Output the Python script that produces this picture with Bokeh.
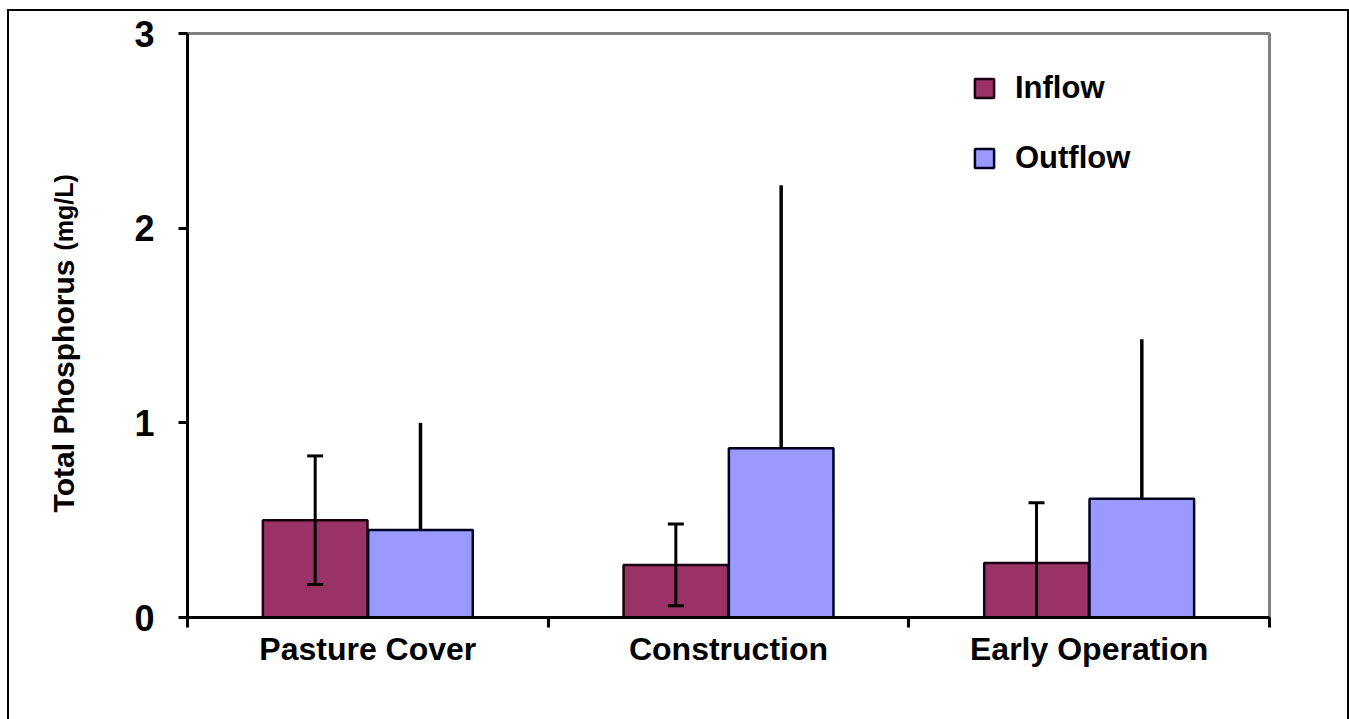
import numpy as np
from bokeh.plotting import figure
from bokeh.layouts import row
from bokeh.core.properties import value
from bokeh.models import (Range1d, FixedTicker, ColumnDataSource, Whisker, TeeHead,
                          Legend, LegendItem)
from bokeh.embed import file_html
from bokeh.resources import INLINE

# ---- data ----
categories = ["Pasture Cover", "Construction", "Early Operation"]
inflow = [0.50, 0.27, 0.28]
inflow_err = [0.33, 0.21, 0.31]
outflow = [0.45, 0.87, 0.61]
outflow_err = [0.55, 1.35, 0.82]
y_ticks = [0, 1, 2, 3]
series_names = ["Inflow", "Outflow"]
y_title = "Total Phosphorus"
y_units = "(mg/L)"

# ---- styling ----
INFLOW_COLOR = "#993366"
OUTFLOW_COLOR = "#9999FF"
FONT = "Liberation Sans"
BAR_W = 0.29
OFFSET = 0.146
H = 710
TOP, BOTTOM = 24, 102
TITLE_W = 120

idx = np.arange(len(categories))
x_in = idx + 0.5 - OFFSET
x_out = idx + 0.5 + OFFSET

y_range = Range1d(y_ticks[0], y_ticks[-1])

# ---- main chart ----
p = figure(width=1342 - TITLE_W, height=H, output_backend="svg", toolbar_location=None,
           x_range=Range1d(0, len(categories)), y_range=y_range,
           min_border_left=60, min_border_right=80, min_border_top=TOP, min_border_bottom=BOTTOM)

p.background_fill_color = "white"
p.border_fill_color = None
p.outline_line_color = "#808080"
p.outline_line_width = 3
p.xgrid.visible = False
p.ygrid.visible = False

src_in = ColumnDataSource(dict(x=x_in, top=inflow,
                               lower=[max(v - e, 0) for v, e in zip(inflow, inflow_err)],
                               upper=[v + e for v, e in zip(inflow, inflow_err)]))
src_out = ColumnDataSource(dict(x=x_out, top=outflow,
                                upper=[v + e for v, e in zip(outflow, outflow_err)]))

r_in = p.vbar(x="x", top="top", bottom=0, width=BAR_W, source=src_in,
              fill_color=INFLOW_COLOR, line_color="#1a0010", line_width=2.5)
r_out = p.vbar(x="x", top="top", bottom=0, width=BAR_W, source=src_out,
               fill_color=OUTFLOW_COLOR, line_color="#000022", line_width=2.5)

# error bars
p.add_layout(Whisker(base="x", lower="lower", upper="upper", source=src_in,
                     level="overlay", line_color="black", line_width=3,
                     upper_head=TeeHead(size=16, line_width=3, line_color="black"),
                     lower_head=TeeHead(size=16, line_width=3, line_color="black")))
p.segment(x0="x", y0="top", x1="x", y1="upper", source=src_out,
          line_color="black", line_width=3.5)

# axes
p.yaxis.ticker = FixedTicker(ticks=y_ticks)
p.yaxis.axis_line_width = 3
p.yaxis.axis_line_color = "black"
p.yaxis.major_tick_line_width = 3
p.yaxis.major_tick_out = 9
p.yaxis.major_tick_in = 0
p.yaxis.minor_tick_line_color = None
p.yaxis.major_label_text_font = FONT
p.yaxis.major_label_text_font_size = "36px"
p.yaxis.major_label_text_font_style = "bold"
p.yaxis.major_label_text_color = "black"
p.yaxis.major_label_standoff = 24

centers = [i + 0.5 for i in idx]
p.xaxis.ticker = FixedTicker(ticks=centers, minor_ticks=list(range(len(categories) + 1)))
p.xaxis.major_label_overrides = {c: name for c, name in zip(centers, categories)}
p.xaxis.axis_line_width = 3
p.xaxis.axis_line_color = "black"
p.xaxis.major_tick_line_color = None
p.xaxis.major_tick_out = 0
p.xaxis.major_tick_in = 0
p.xaxis.minor_tick_line_color = "black"
p.xaxis.minor_tick_line_width = 3
p.xaxis.minor_tick_out = 10
p.xaxis.minor_tick_in = 0
p.xaxis.major_label_text_font = FONT
p.xaxis.major_label_text_font_size = "32px"
p.xaxis.major_label_text_font_style = "bold"
p.xaxis.major_label_text_color = "black"
p.xaxis.major_label_standoff = 3

legend = Legend(items=[LegendItem(label=series_names[0], renderers=[r_in]),
                       LegendItem(label=series_names[1], renderers=[r_out])],
                location=(785, 441), orientation="vertical",
                glyph_width=24, glyph_height=24, label_height=35, spacing=34,
                label_standoff=19, padding=0, margin=0,
                label_text_font=FONT, label_text_font_size="31px",
                label_text_font_style="bold", label_text_color="black",
                border_line_alpha=0, background_fill_alpha=0)
p.add_layout(legend)

# ---- y-axis title strip (shares the y scale) ----
t = figure(width=TITLE_W, height=H, output_backend="svg", toolbar_location=None,
           x_range=Range1d(0, TITLE_W), y_range=y_range,
           min_border_left=0, min_border_right=0, min_border_top=TOP, min_border_bottom=BOTTOM)
t.axis.visible = False
t.grid.visible = False
t.outline_line_color = None
t.background_fill_alpha = 0
t.border_fill_alpha = 0
t.text(x=[56], y=[0.54], text=[y_title], angle=np.pi / 2,
       text_font=value(FONT), text_font_size="30px", text_font_style="bold",
       text_color="black", text_align="left", text_baseline="alphabetic")
t.text(x=[56], y=[1.885], text=[y_units], angle=np.pi / 2,
       text_font=value(FONT), text_font_size="25px", text_font_style="bold",
       text_color="black", text_align="left", text_baseline="alphabetic")

layout = row(t, p, spacing=0)
layout.styles = {"margin-left": "7px", "margin-top": "9px",
                 "box-shadow": "inset 2px 2px 0 0 black, inset -2px 0 0 0 black"}

open("out.html", "w").write(file_html(layout, INLINE))
